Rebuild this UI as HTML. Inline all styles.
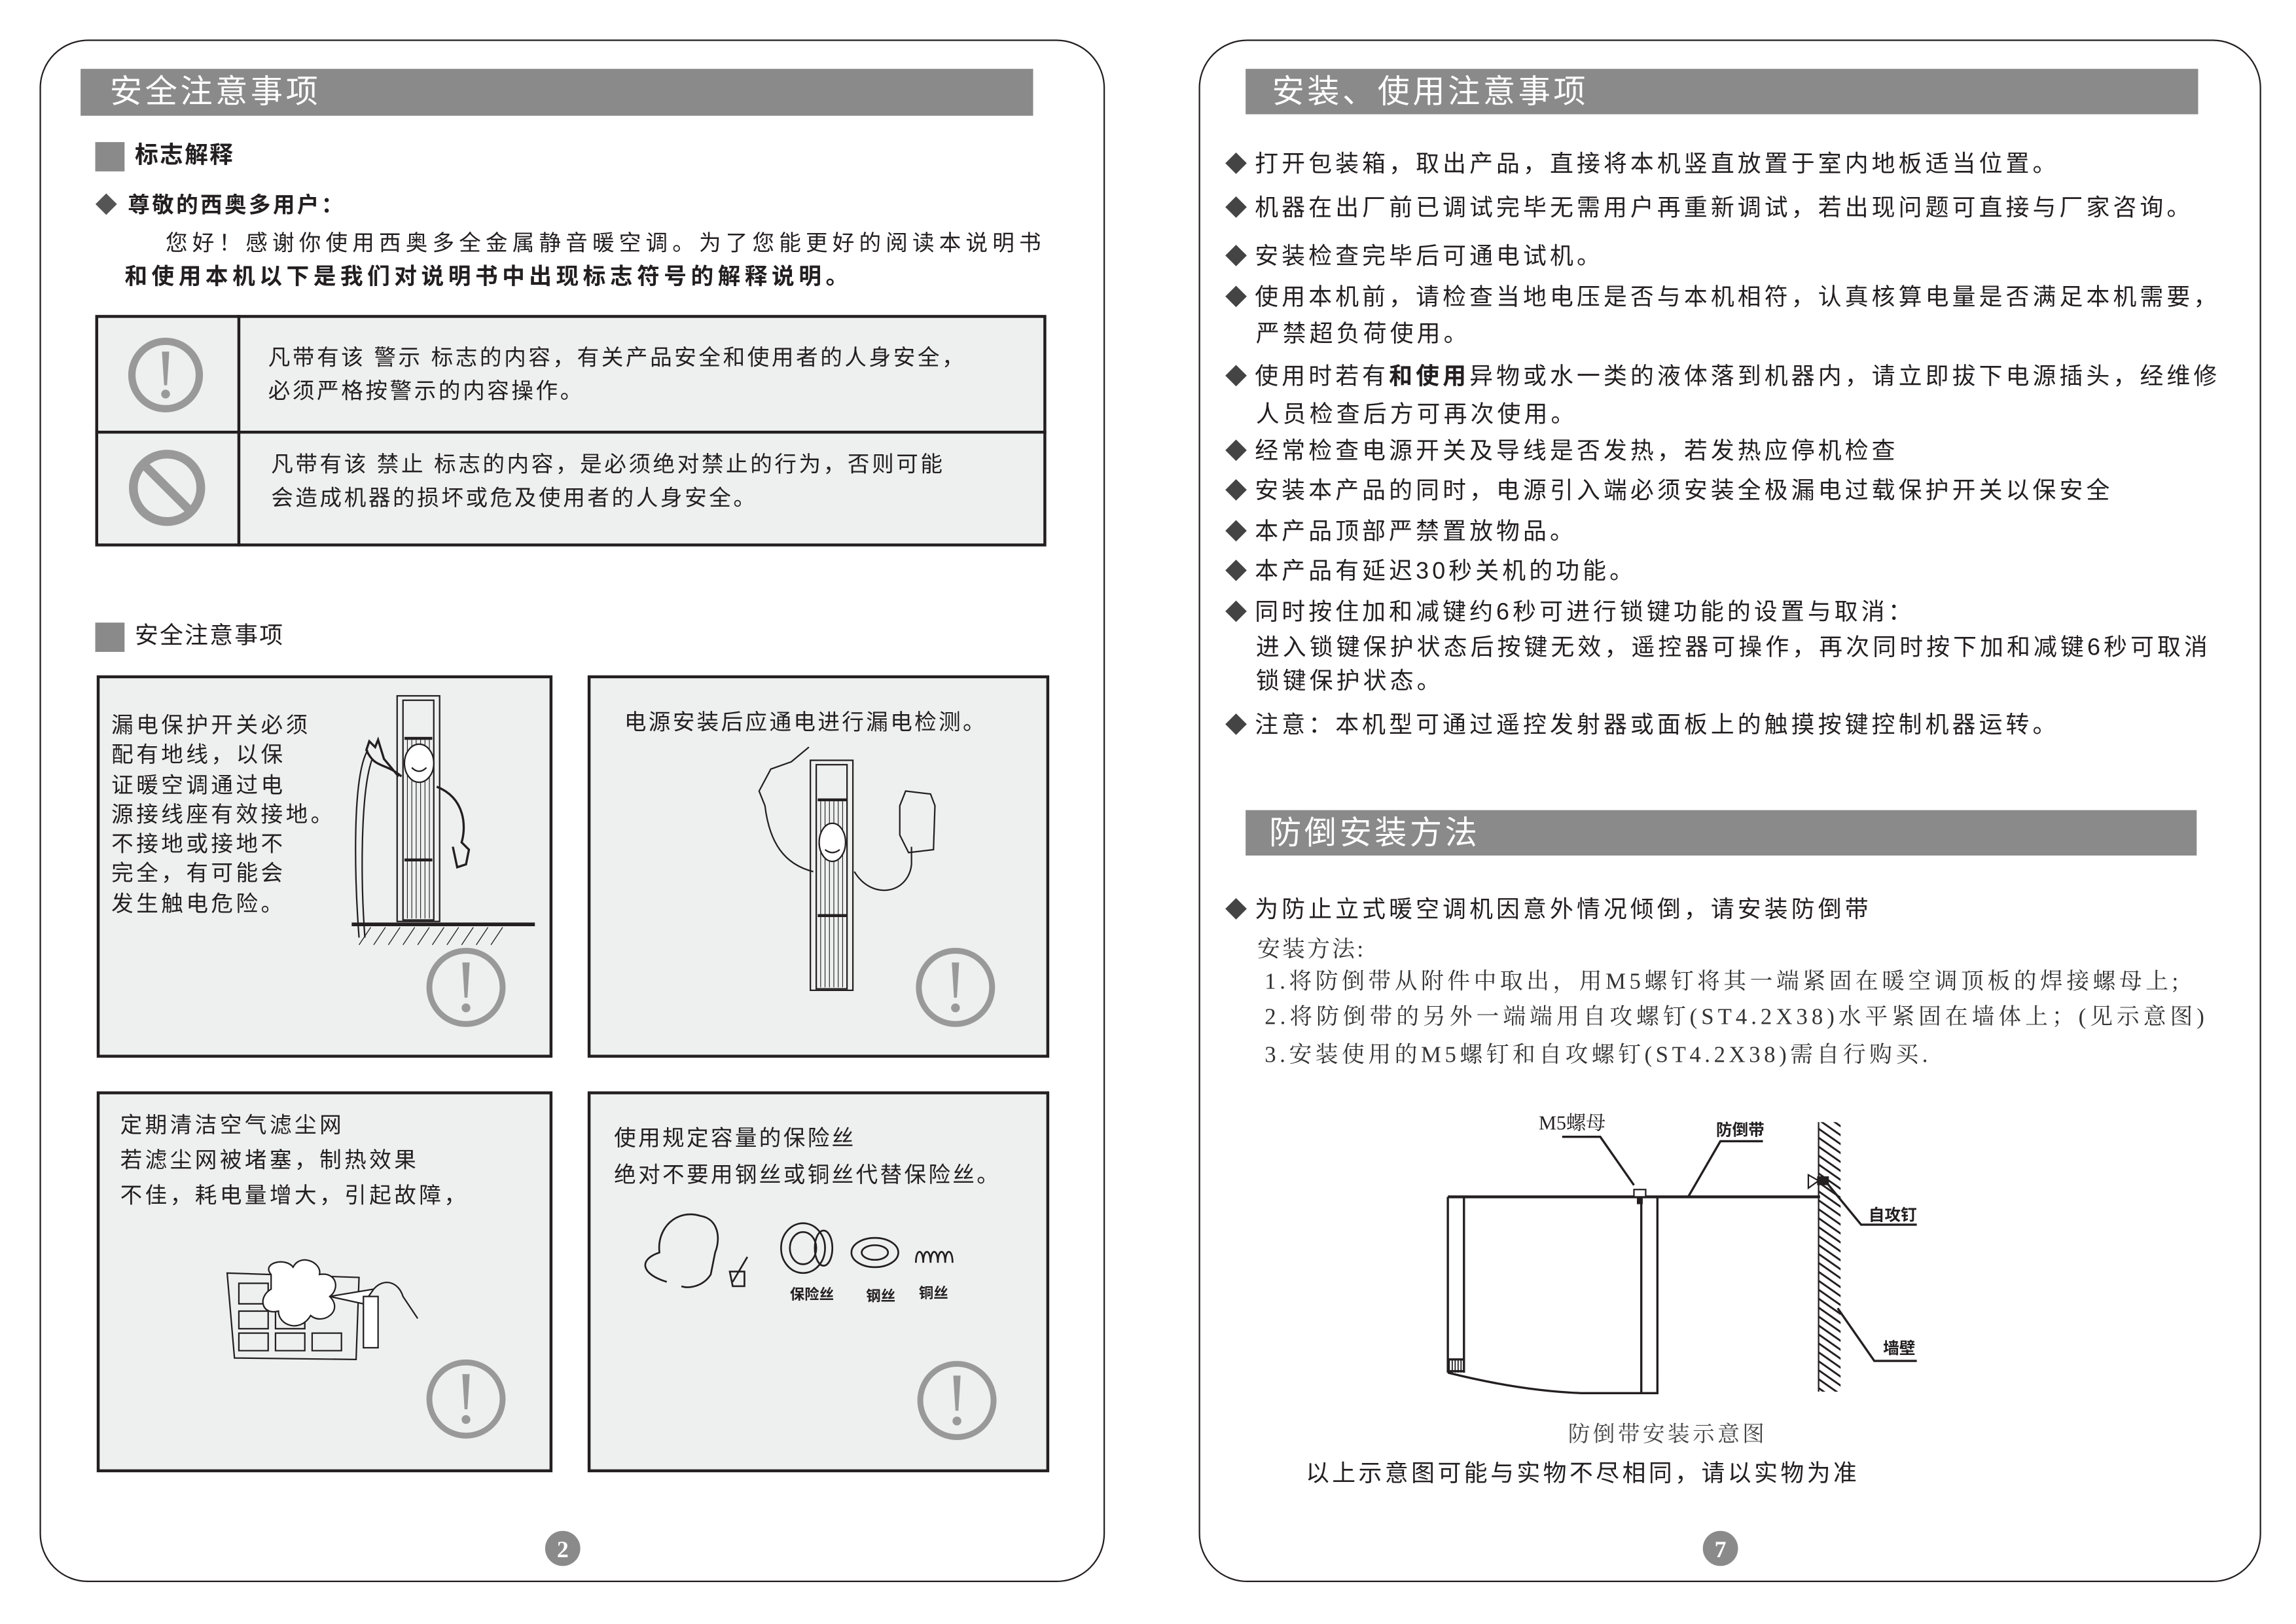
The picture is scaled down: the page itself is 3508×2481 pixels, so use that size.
<!DOCTYPE html>
<html><head><meta charset="utf-8">
<style>
html,body{margin:0;padding:0;background:#fff;}
body{width:3508px;height:2481px;overflow:hidden;position:relative;}
#s{position:absolute;left:0;top:0;width:1567px;height:1108px;transform:scale(2.239,2.238);transform-origin:0 0;}
.a{position:absolute;white-space:nowrap;font-family:"Liberation Sans","Noto Sans CJK SC",sans-serif;color:#231f20;}
.pg{position:absolute;border:1px solid #231f20;border-radius:33px;}
.bar{position:absolute;background:#8a8a8a;color:#fff;font-family:"Liberation Sans","Noto Sans CJK SC",sans-serif;font-size:22px;letter-spacing:2px;line-height:31px;}
.sq{position:absolute;width:20px;height:20px;background:#8a8a8a;}
.box{position:absolute;background:#eef0ef;border:2px solid #231f20;box-sizing:border-box;}
.r{font-size:16px;letter-spacing:2.3px;}
.d{font-size:15px;margin-right:3px;color:#444;}
.sf{font-family:"Liberation Serif","Noto Serif CJK SC",serif;font-size:15.5px;color:#333;}
</style></head><body><div id="s">

<div class="pg" style="left:26.7px;top:27.1px;width:725px;height:1051px;"></div>
<div class="pg" style="left:818px;top:27.1px;width:723px;height:1051px;"></div>

<!-- LEFT PAGE -->
<div class="bar" style="left:55px;top:47px;width:650px;height:32px;"><span style="margin-left:20px;">安全注意事项</span></div>
<div class="sq" style="left:65px;top:97px;"></div>
<div class="a" style="left:92px;top:97px;font-size:16px;font-weight:bold;letter-spacing:1px;line-height:20px;">标志解释</div>
<div class="a" style="left:65px;top:131px;font-size:15px;font-weight:bold;letter-spacing:1.5px;line-height:20px;"><span style="color:#555">◆</span> 尊敬的西奥多用户：</div>
<div class="a" style="left:113px;top:157px;font-size:15px;letter-spacing:3.2px;line-height:20px;">您好！感谢你使用西奥多全金属静音暖空调。为了您能更好的阅读本说明书</div>
<div class="a" style="left:85px;top:180px;font-size:15.5px;font-weight:bold;letter-spacing:2.9px;line-height:20px;">和使用本机以下是我们对说明书中出现标志符号的解释说明。</div>

<div class="box" style="left:65px;top:215px;width:649px;height:158px;"></div>
<div style="position:absolute;left:65px;top:294px;width:649px;height:2px;background:#231f20;"></div>
<div style="position:absolute;left:162px;top:215px;width:2px;height:158px;background:#231f20;"></div>
<svg style="position:absolute;left:0;top:0;" width="1567" height="1108">
 <circle cx="113" cy="256" r="23" fill="none" stroke="#999" stroke-width="5"/>
 <path d="M110.5 240 L115.5 240 L114 263 L112 263 Z" fill="#999"/><circle cx="113" cy="269" r="3" fill="#999"/>
 <circle cx="114" cy="333" r="23" fill="none" stroke="#999" stroke-width="6"/>
 <line x1="98" y1="317" x2="130" y2="349" stroke="#999" stroke-width="6"/>
</svg>
<div class="a" style="left:183px;top:235px;font-size:15px;letter-spacing:1.6px;line-height:20px;">凡带有该 警示 标志的内容，有关产品安全和使用者的人身安全，</div>
<div class="a" style="left:183px;top:258px;font-size:15px;letter-spacing:1.6px;line-height:20px;">必须严格按警示的内容操作。</div>
<div class="a" style="left:185px;top:308px;font-size:15px;letter-spacing:1.6px;line-height:20px;">凡带有该 禁止 标志的内容，是必须绝对禁止的行为，否则可能</div>
<div class="a" style="left:185px;top:331px;font-size:15px;letter-spacing:1.6px;line-height:20px;">会造成机器的损坏或危及使用者的人身安全。</div>

<div class="sq" style="left:65px;top:425px;"></div>
<div class="a" style="left:92px;top:425px;font-size:16px;letter-spacing:1px;line-height:20px;">安全注意事项</div>

<div class="box" style="left:66px;top:461px;width:311px;height:261px;"></div>
<div class="box" style="left:401px;top:461px;width:315px;height:261px;"></div>
<div class="box" style="left:66px;top:745px;width:311px;height:260px;"></div>
<div class="box" style="left:401px;top:745px;width:315px;height:260px;"></div>

<div class="a" style="left:76px;top:486px;font-size:15px;letter-spacing:2px;line-height:20.3px;">漏电保护开关必须<br>配有地线，以保<br>证暖空调通过电<br>源接线座有效接地。<br>不接地或接地不<br>完全，有可能会<br>发生触电危险。</div>
<div class="a" style="left:426px;top:484px;font-size:15px;letter-spacing:1.5px;line-height:20px;">电源安装后应通电进行漏电检测。</div>
<div class="a" style="left:82px;top:757px;font-size:15px;letter-spacing:2px;line-height:24px;">定期清洁空气滤尘网<br>若滤尘网被堵塞，制热效果<br>不佳，耗电量增大，引起故障，</div>
<div class="a" style="left:419px;top:765px;font-size:15px;letter-spacing:1.5px;line-height:25px;">使用规定容量的保险丝<br>绝对不要用钢丝或铜丝代替保险丝。</div>
<div class="a" style="left:539px;top:875px;font-size:10px;font-weight:bold;">保险丝</div>
<div class="a" style="left:591px;top:876px;font-size:10px;font-weight:bold;">钢丝</div>
<div class="a" style="left:627px;top:874px;font-size:10px;font-weight:bold;">铜丝</div>

<svg style="position:absolute;left:0;top:0;" width="1567" height="1108">
 <g fill="none" stroke="#999" stroke-width="4">
  <circle cx="318" cy="674" r="25"/><circle cx="652" cy="674" r="25"/>
  <circle cx="318" cy="955" r="25"/><circle cx="653" cy="956" r="25"/>
 </g>
 <g fill="#999">
  <path d="M315.5 657 L320.5 657 L319 681 L317 681 Z"/><circle cx="318" cy="688" r="3"/>
  <path d="M649.5 657 L654.5 657 L653 681 L651 681 Z"/><circle cx="652" cy="688" r="3"/>
  <path d="M315.5 938 L320.5 938 L319 962 L317 962 Z"/><circle cx="318" cy="969" r="3"/>
  <path d="M650.5 939 L655.5 939 L654 963 L652 963 Z"/><circle cx="653" cy="970" r="3"/>
 </g>
 <g fill="none" stroke="#231f20" stroke-width="1">
  <rect x="271" y="475" width="29" height="154"/>
  <rect x="275" y="478" width="21" height="150"/>
  <line x1="276" y1="504" x2="295" y2="504" stroke-width="2"/>
  <line x1="276" y1="587" x2="295" y2="587" stroke-width="2"/>
  <path d="M278 505 V586 M281 505 V586 M284 505 V586 M287 505 V586 M290 505 V586 M293 505 V586 M278 588 V627 M281 588 V627 M284 588 V627 M287 588 V627 M290 588 V627 M293 588 V627" stroke-width="0.5"/>
  <ellipse cx="286" cy="521" rx="10" ry="13" fill="#fff"/>
  <path d="M281 524 q5 5 10 0"/>
  <path d="M274 530 C262 520 256 525 250 512 L252 506 L256 510 L258 505 L262 518 L272 530" stroke-width="1.5"/>
  <path d="M298 537 C318 545 318 565 315 575 L320 580 L318 590 L312 592 L309 578" stroke-width="1.5"/>
  <path d="M251 512 C240 530 242 600 245 640" />
  <path d="M254 518 C246 540 246 600 249 640" />
  <line x1="240" y1="631" x2="365" y2="631" stroke-width="2.5"/>
  <path d="M245 645 l8 -12 M255 645 l8 -12 M265 645 l8 -12 M275 645 l8 -12 M285 645 l8 -12 M295 645 l8 -12 M305 645 l8 -12 M315 645 l8 -12 M325 645 l8 -12 M335 645 l8 -12" stroke-width="0.6"/>
 </g>
 <g fill="none" stroke="#231f20" stroke-width="1">
  <rect x="553" y="519" width="29" height="157"/>
  <rect x="557" y="522" width="21" height="153"/>
  <line x1="558" y1="546" x2="578" y2="546" stroke-width="2"/>
  <line x1="558" y1="625" x2="578" y2="625" stroke-width="2"/>
  <path d="M560 547 V624 M563 547 V624 M566 547 V624 M569 547 V624 M572 547 V624 M575 547 V624 M560 626 V674 M563 626 V674 M566 626 V674 M569 626 V674 M572 626 V674 M575 626 V674" stroke-width="0.5"/>
  <ellipse cx="568" cy="575" rx="9" ry="13" fill="#fff"/>
  <path d="M563 580 q5 4 10 0"/>
  <path d="M555 595 C535 590 525 575 522 550 L518 540 L526 525 L540 520 L552 510"/>
  <path d="M583 595 C595 615 620 610 622 590 L622 578"/>
  <path d="M614 550 L618 540 L635 542 L638 550 L637 580 L620 582 L614 570 Z"/>
 </g>
 <g fill="none" stroke="#231f20" stroke-width="1">
  <path d="M155 869 L245 872 L243 928 L160 927 Z"/>
  <path d="M163 876 h20 v14 h-20z M188 876 h20 v14 h-20z M163 895 h20 v12 h-20z M188 895 h20 v12 h-20z M163 910 h20 v12 h-20z M188 910 h20 v12 h-20z M213 910 h20 v12 h-20z"/>
  <path d="M185 870 C178 862 195 858 200 865 C205 855 220 862 218 870 C230 868 232 880 225 885 C235 895 220 905 212 898 C205 910 190 905 190 895 C178 898 176 885 185 880 Z" fill="#fff"/>
  <path d="M225 885 L255 880 L248 890 Z" fill="#fff"/>
  <rect x="248" y="885" width="10" height="35" fill="#fff"/>
  <path d="M255 880 C262 872 272 875 275 885 L285 900"/>
 </g>
 <g fill="none" stroke="#231f20" stroke-width="1.2">
  <path d="M455 875 C438 870 435 860 450 855 C448 838 462 825 478 830 C490 832 492 845 488 855 L485 870 C480 878 470 880 465 878"/>
  <path d="M500 875 L510 858 M498 868 h10 v10 h-8z"/>
  <ellipse cx="548" cy="852" rx="15" ry="17"/><ellipse cx="548" cy="852" rx="9" ry="11"/><ellipse cx="562" cy="852" rx="6" ry="12"/>
  <ellipse cx="597" cy="855" rx="16" ry="10"/><ellipse cx="597" cy="855" rx="9" ry="5"/>
  <path d="M625 862 c0 -10 5 -10 5 0 c0 -10 5 -10 5 0 c0 -10 5 -10 5 0 c0 -10 5 -10 5 0 c0 -10 5 -10 5 0"/>
 </g>
 <circle cx="384" cy="1057" r="12" fill="#8a8a8a"/>
 <circle cx="1174" cy="1057" r="12" fill="#8a8a8a"/>
 <text x="384" y="1063" font-family="Liberation Serif" font-size="16" font-weight="bold" fill="#fff" text-anchor="middle">2</text>
 <text x="1174" y="1063" font-family="Liberation Serif" font-size="16" font-weight="bold" fill="#fff" text-anchor="middle">7</text>
</svg>

<!-- RIGHT PAGE -->
<div class="bar" style="left:850px;top:47px;width:650px;height:31px;"><span style="margin-left:18px;">安装、使用注意事项</span></div>
<div class="a r" style="left:836px;top:98px;"><span class="d">◆</span>打开包装箱，取出产品，直接将本机竖直放置于室内地板适当位置。</div>
<div class="a r" style="left:836px;top:128px;"><span class="d">◆</span>机器在出厂前已调试完毕无需用户再重新调试，若出现问题可直接与厂家咨询。</div>
<div class="a r" style="left:836px;top:161px;"><span class="d">◆</span>安装检查完毕后可通电试机。</div>
<div class="a r" style="left:836px;top:189px;"><span class="d">◆</span>使用本机前，请检查当地电压是否与本机相符，认真核算电量是否满足本机需要，</div>
<div class="a r" style="left:857px;top:214px;">严禁超负荷使用。</div>
<div class="a r" style="left:836px;top:243px;"><span class="d">◆</span>使用时若有<b>和使用</b>异物或水一类的液体落到机器内，请立即拔下电源插头，经维修</div>
<div class="a r" style="left:857px;top:269px;">人员检查后方可再次使用。</div>
<div class="a r" style="left:836px;top:294px;"><span class="d">◆</span>经常检查电源开关及导线是否发热，若发热应停机检查</div>
<div class="a r" style="left:836px;top:321px;"><span class="d">◆</span>安装本产品的同时，电源引入端必须安装全极漏电过载保护开关以保安全</div>
<div class="a r" style="left:836px;top:349px;"><span class="d">◆</span>本产品顶部严禁置放物品。</div>
<div class="a r" style="left:836px;top:376px;"><span class="d">◆</span>本产品有延迟30秒关机的功能。</div>
<div class="a r" style="left:836px;top:404px;"><span class="d">◆</span>同时按住加和减键约6秒可进行锁键功能的设置与取消：</div>
<div class="a r" style="left:857px;top:428px;">进入锁键保护状态后按键无效，遥控器可操作，再次同时按下加和减键6秒可取消</div>
<div class="a r" style="left:857px;top:451px;">锁键保护状态。</div>
<div class="a r" style="left:836px;top:481px;"><span class="d">◆</span>注意：本机型可通过遥控发射器或面板上的触摸按键控制机器运转。</div>

<div class="bar" style="left:850px;top:553px;width:649px;height:31px;"><span style="margin-left:16px;">防倒安装方法</span></div>
<div class="a r" style="left:836px;top:607px;"><span class="d">◆</span>为防止立式暖空调机因意外情况倾倒，请安装防倒带</div>
<div class="a sf" style="left:858px;top:636px;letter-spacing:1.5px;">安装方法:</div>
<div class="a sf" style="left:863px;top:658px;letter-spacing:2.5px;">1.将防倒带从附件中取出，用M5螺钉将其一端紧固在暖空调顶板的焊接螺母上;</div>
<div class="a sf" style="left:863px;top:682px;letter-spacing:2.7px;">2.将防倒带的另外一端端用自攻螺钉(ST4.2X38)水平紧固在墙体上；(见示意图)</div>
<div class="a sf" style="left:863px;top:708px;letter-spacing:2.5px;">3.安装使用的M5螺钉和自攻螺钉(ST4.2X38)需自行购买.</div>

<svg style="position:absolute;left:0;top:0;" width="1567" height="1108">
 <defs><pattern id="h" width="5" height="5" patternUnits="userSpaceOnUse" patternTransform="rotate(-55)"><rect width="5" height="5" fill="#fff"/><line x1="0" y1="0" x2="0" y2="5" stroke="#231f20" stroke-width="2.6"/></pattern></defs>
 <rect x="1241" y="766" width="15" height="184" fill="url(#h)"/>
 <line x1="1241" y1="766" x2="1241" y2="950" stroke="#231f20" stroke-width="1"/>
 <g fill="none" stroke="#231f20" stroke-width="1.5">
  <line x1="988" y1="817" x2="1242" y2="817" stroke-width="2"/>
  <path d="M988 817 V937 M999 817 V937 M988 936 H999 M988 928 H999"/>
  <path d="M988 937 C1020 945 1050 950 1080 951 H1131 V817 M1120 817 V951"/>
  <path d="M1066 776 H1092 L1115 809"/>
  <path d="M1203 779 H1174 L1152 817"/>
  <path d="M1247 808 L1270 836 H1308"/>
  <path d="M1254 893 L1279 929 H1308"/>
  <path d="M1234 802 L1241 806 L1234 811 Z" stroke-width="1"/>
 </g>
 <rect x="1240" y="803" width="8" height="6" fill="#231f20"/>
 <rect x="1115" y="812" width="8" height="5" fill="#fff" stroke="#231f20" stroke-width="1"/>
 <rect x="1117" y="817" width="4" height="5" fill="#231f20"/>
 <path d="M989 928 v9 M991 928 v9 M993 928 v9 M995 928 v9 M997 928 v9" stroke="#231f20" stroke-width="0.8"/>
</svg>
<div class="a" style="left:1050px;top:759px;font-family:'Liberation Serif','Noto Serif CJK SC',serif;font-size:13.5px;line-height:16px;">M5螺母</div>
<div class="a" style="left:1171px;top:765px;font-size:11px;font-weight:bold;line-height:14px;">防倒带</div>
<div class="a" style="left:1275px;top:823px;font-size:11px;font-weight:bold;line-height:14px;">自攻钉</div>
<div class="a" style="left:1285px;top:914px;font-size:11px;font-weight:bold;line-height:14px;">墙壁</div>
<div class="a" style="left:1070px;top:970px;font-family:'Liberation Serif','Noto Serif CJK SC',serif;font-size:15px;letter-spacing:2px;color:#444;line-height:20px;">防倒带安装示意图</div>
<div class="a" style="left:891px;top:997px;font-size:16px;letter-spacing:2px;line-height:20px;">以上示意图可能与实物不尽相同，请以实物为准</div>

</div></body></html>
